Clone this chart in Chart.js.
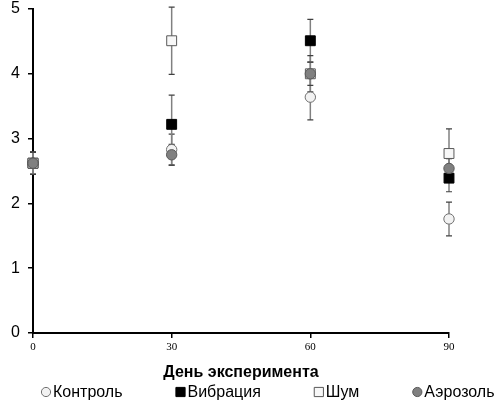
<!DOCTYPE html>
<html>
<head>
<meta charset="utf-8">
<script src="https://cdn.jsdelivr.net/npm/chart.js@4/dist/chart.umd.min.js"></script>
<style>
  html, body { margin: 0; padding: 0; background: #fff; }
  #wrap { width: 500px; height: 408px; }
</style>
</head>
<body>
<div id="wrap"><canvas id="chart"></canvas></div>
<script>
const days = [0, 30, 60, 90]
const seriesNames = ["Контроль", "Вибрация", "Шум", "Аэрозоль"]

const control = [2.62, 2.83, 3.64, 1.76]
const controlErr = [0.17, 0.24, 0.35, 0.26]
const vibration = [2.62, 3.22, 4.51, 2.39]
const vibrationErr = [0.17, 0.45, 0.33, 0.21]
const noise = [2.62, 4.51, 4.0, 2.77]
const noiseErr = [0.17, 0.52, 0.28, 0.38]
const aerosol = [2.62, 2.75, 4.0, 2.54]
const aerosolErr = [0.17, 0.16, 0.18, 0.15]

const xTicks = [0, 30, 60, 90]
const yTicks = [0, 1, 2, 3, 4, 5]

const points = (values) => values.map((v, i) => ({ x: days[i], y: v }))

// vertical error bars drawn under the markers
const errorBars = {
  id: "errorBars",
  beforeDatasetsDraw(chart) {
    const { ctx, scales: { x, y } } = chart
    ctx.save()
    chart.data.datasets.forEach((ds) => {
      ds.errors.forEach((e, i) => {
        const px = x.getPixelForValue(ds.data[i].x)
        const top = y.getPixelForValue(ds.data[i].y + e)
        const bottom = y.getPixelForValue(ds.data[i].y - e)
        ctx.strokeStyle = "#808080"
        ctx.lineWidth = 1.5
        ctx.beginPath()
        ctx.moveTo(px, top)
        ctx.lineTo(px, bottom)
        ctx.stroke()
        ctx.strokeStyle = "#404040"
        ctx.lineWidth = 1.2
        ctx.beginPath()
        ctx.moveTo(px - 3, top)
        ctx.lineTo(px + 3, top)
        ctx.moveTo(px - 3, bottom)
        ctx.lineTo(px + 3, bottom)
        ctx.stroke()
      })
    })
    ctx.restore()
  }
}

// one-row legend along the bottom, spaced like the original
const legendRow = {
  id: "legendRow",
  afterDraw(chart) {
    const { ctx } = chart
    const y = 392
    let x = 46
    ctx.save()
    ctx.font = "16px 'Liberation Sans'"
    ctx.textBaseline = "middle"
    ctx.textAlign = "left"
    chart.data.datasets.forEach((ds) => {
      ctx.fillStyle = ds.backgroundColor
      ctx.strokeStyle = ds.borderColor
      ctx.lineWidth = 1
      const radius = ds.pointStyle === "rect" ? 6.5 : 4.6
      Chart.helpers.drawPoint(ctx, { pointStyle: ds.pointStyle, radius, borderWidth: 1, rotation: 0 }, x, y)
      ctx.fillStyle = "#000"
      ctx.fillText(ds.label, x + 7, y + 1)
      x += 7 + ctx.measureText(ds.label).width + 58
    })
    ctx.restore()
  }
}

new Chart(document.getElementById("chart"), {
  type: "scatter",
  data: {
    datasets: [
      { label: seriesNames[0], data: points(control), errors: controlErr, order: 3,
        pointStyle: "circle", pointRadius: 5.2, backgroundColor: "#f2f2f2", borderColor: "#707070", borderWidth: 1, clip: false },
      { label: seriesNames[1], data: points(vibration), errors: vibrationErr, order: 2,
        pointStyle: "rect", pointRadius: 7, backgroundColor: "#000000", borderColor: "#000000", borderWidth: 1, clip: false },
      { label: seriesNames[2], data: points(noise), errors: noiseErr, order: 1,
        pointStyle: "rect", pointRadius: 7, backgroundColor: "#f7f7f7", borderColor: "#595959", borderWidth: 1, clip: false },
      { label: seriesNames[3], data: points(aerosol), errors: aerosolErr, order: 0,
        pointStyle: "circle", pointRadius: 5.2, backgroundColor: "#808080", borderColor: "#595959", borderWidth: 1, clip: false }
    ]
  },
  options: {
    responsive: true,
    maintainAspectRatio: false,
    animation: false,
    layout: { padding: { top: 9, right: 51, left: 0, bottom: 26 } },
    elements: { point: { hoverRadius: 6 } },
    scales: {
      x: {
        type: "linear",
        min: 0,
        max: 90,
        afterBuildTicks: (scale) => { scale.ticks = xTicks.map((v) => ({ value: v })) },
        afterFit: (scale) => { scale.height = 49; scale.paddingLeft = 0; scale.paddingRight = 0 },
        border: { color: "#000", width: 2 },
        grid: { drawOnChartArea: false, drawTicks: true, tickLength: 5, color: "#000", lineWidth: 1.5 },
        ticks: { color: "#000", font: { family: "Liberation Serif", size: 11 }, padding: 3, maxRotation: 0 },
        title: {
          display: true,
          text: "День эксперимента",
          color: "#000",
          font: { family: "Liberation Sans", size: 16, weight: "bold" },
          padding: { top: 4, bottom: 0 }
        }
      },
      y: {
        min: 0,
        max: 5,
        afterBuildTicks: (scale) => { scale.ticks = yTicks.map((v) => ({ value: v })) },
        afterFit: (scale) => { scale.width = 33; scale.paddingTop = 0; scale.paddingBottom = 0 },
        border: { color: "#000", width: 2 },
        grid: { drawOnChartArea: false, drawTicks: true, tickLength: 5, color: "#000", lineWidth: 1.5 },
        ticks: { color: "#000", font: { family: "Liberation Sans", size: 16 }, padding: 8 }
      }
    },
    plugins: {
      tooltip: { enabled: false },
      legend: { display: false }
    }
  },
  plugins: [errorBars, legendRow]
})
</script>
</body>
</html>
